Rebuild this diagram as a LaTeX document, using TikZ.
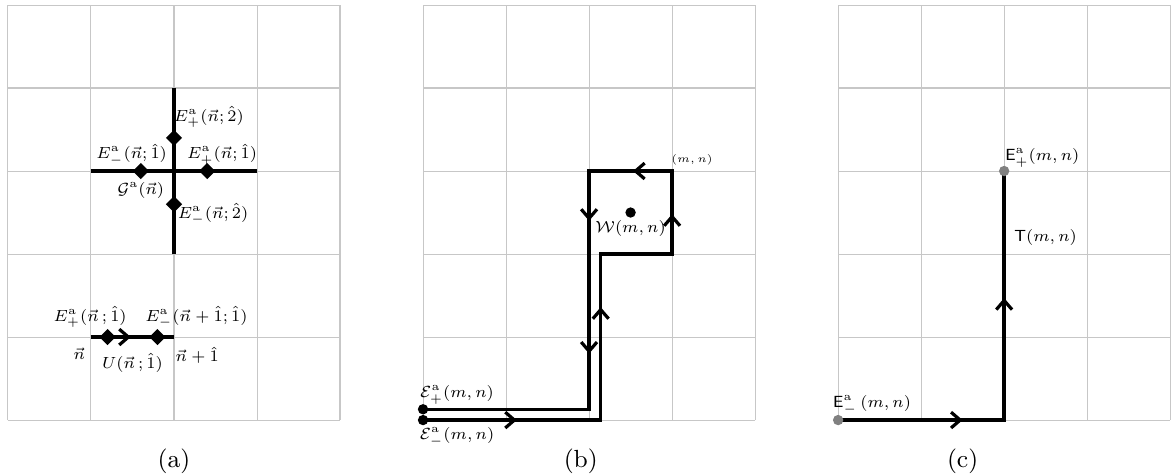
\documentclass[tikz,border=0pt]{standalone}
\usepackage{amsmath}
\usetikzlibrary{shapes.geometric,arrows.meta,positioning}

\tikzset{
  gridline/.style={black!22,line width=0.35pt},
  link/.style={line width=1.2pt,line join=miter},
  tipmark/.style={line width=1.1pt,-{Straight Barb[length=1.1mm,width=1.9mm]}},
  gen/.style={diamond,fill=black,inner sep=0pt,minimum size=2mm},
  site/.style={circle,fill=black,inner sep=0pt,minimum size=1.25mm},
  gsite/.style={circle,fill=black!50,inner sep=0pt,minimum size=1.25mm},
  lbl/.style={font=\scriptsize,scale=0.79,inner sep=1pt},
  tinylbl/.style={font=\tiny,scale=0.73,inner sep=1pt},
  subcap/.style={font=\fontsize{8.5}{10}\selectfont}
}

\begin{document}
\begin{tikzpicture}
\useasboundingbox (-0.096,-0.663) rectangle (14.01,5.06);

% (a) Gauss law and link
\begin{scope}
  \draw[gridline] (0,0) grid (4,5);
  \draw[link] (1,3) -- (3,3);
  \draw[link] (2,2) -- (2,4);
  \node[gen] (em1) at (1.6,3) {};
  \node[gen] (ep1) at (2.4,3) {};
  \node[gen] (ep2) at (2,3.4) {};
  \node[gen] (em2) at (2,2.6) {};
  \node[lbl] at (2.42,3.65) {$E^{\mathrm{a}}_{+}(\vec{n};\hat{2})$};
  \node[lbl] at (1.49,3.2) {$E^{\mathrm{a}}_{-}(\vec{n};\hat{1})$};
  \node[lbl] at (2.58,3.2) {$E^{\mathrm{a}}_{+}(\vec{n};\hat{1})$};
  \node[lbl] at (1.6,2.77) {$\mathcal{G}^{\mathrm{a}}(\vec{n})$};
  \node[lbl] at (2.47,2.48) {$E^{\mathrm{a}}_{-}(\vec{n};\hat{2})$};
  % single link
  \draw[link] (1,1) -- (2,1);
  \draw[tipmark] (1.3,1) -- (1.48,1);
  \node[gen] (lp) at (1.2,1) {};
  \node[gen] (lm) at (1.8,1) {};
  \node[lbl] at (0.99,1.24) {$E^{\mathrm{a}}_{+}(\vec{n}\,;\hat{1})$};
  \node[lbl] at (2.27,1.24) {$E^{\mathrm{a}}_{-}(\vec{n}+\hat{1};\hat{1})$};
  \node[lbl] at (0.86,0.8) {$\vec{n}$};
  \node[lbl] at (1.5,0.69) {$U(\vec{n}\,;\hat{1})$};
  \node[lbl] at (2.28,0.78) {$\vec{n}+\hat{1}$};
  \node[subcap] at (2,-0.5) {(a)};
\end{scope}

% (b) Wilson loop with string
\begin{scope}[xshift=5cm]
  \draw[gridline] (0,0) grid (4,5);
  \draw[link]
    (0,0) -- (2.14,0) -- (2.14,2) -- (3,2) -- (3,3) -- (2,3) -- (2,0.13) -- (0,0.13);
  \draw[tipmark] (0.95,0) -- (1.13,0);
  \draw[tipmark] (2.14,1.18) -- (2.14,1.36);
  \draw[tipmark] (3,2.3) -- (3,2.48);
  \draw[tipmark] (2.71,3) -- (2.53,3);
  \draw[tipmark] (2,2.58) -- (2,2.4);
  \draw[tipmark] (2,0.98) -- (2,0.8);
  \node[site] (em) at (0,0) {};
  \node[site] (ep) at (0,0.13) {};
  \node[site] (w) at (2.5,2.5) {};
  \node[lbl] at (2.5,2.31) {$\mathcal{W}(m,n)$};
  \node[tinylbl] at (3.24,3.13) {$(m,n)$};
  \node[lbl] at (0.41,0.3) {$\mathcal{E}^{\mathrm{a}}_{+}(m,n)$};
  \node[lbl] at (0.41,-0.2) {$\mathcal{E}^{\mathrm{a}}_{-}(m,n)$};
  \node[subcap] at (1.9,-0.5) {(b)};
\end{scope}

% (c) open string
\begin{scope}[xshift=10cm]
  \draw[gridline] (0,0) grid (4,5);
  \draw[link] (0,0) -- (2,0) -- (2,3);
  \draw[tipmark] (1.32,0) -- (1.5,0);
  \draw[tipmark] (2,1.29) -- (2,1.47);
  \node[gsite] (sm) at (0,0) {};
  \node[gsite] (sp) at (2,3) {};
  \node[lbl] at (2.46,3.16) {$\mathsf{E}^{\mathrm{a}}_{+}(m,n)$};
  \node[lbl] at (2.5,2.2) {$\mathsf{T}(m,n)$};
  \node[lbl] at (0.41,0.18) {$\mathsf{E}^{\mathrm{a}}_{-}\,(m,n)$};
  \node[subcap] at (1.5,-0.5) {(c)};
\end{scope}
\end{tikzpicture}
\end{document}
